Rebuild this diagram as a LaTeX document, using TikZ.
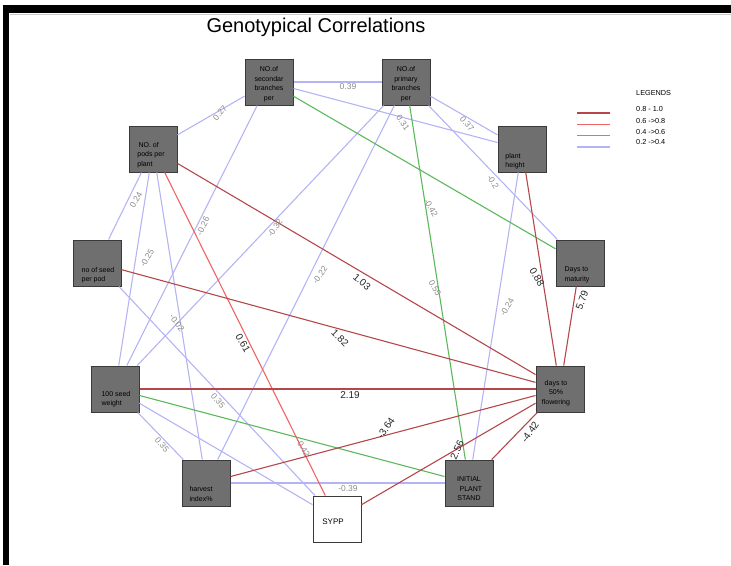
\documentclass[tikz,border=0pt]{standalone}
\usepackage{fontspec}
\setmainfont{Liberation Sans}
\usetikzlibrary{positioning}
\definecolor{darkred}{HTML}{B5474B}
\definecolor{lightred}{HTML}{EE6464}
\definecolor{midgreen}{HTML}{5DB85D}
\definecolor{lavender}{HTML}{B4B4F5}
\definecolor{boxgray}{HTML}{6F6F6F}
\definecolor{boxedge}{HTML}{3A3A3A}
\definecolor{lblgray}{HTML}{8A8A8A}

\begin{document}
\begin{tikzpicture}[
    x=1pt, y=-1pt,
    box/.style={draw=boxedge, fill=boxgray, line width=1pt,
                minimum width=48, minimum height=46, inner sep=0pt},
    txt/.style={font=\fontsize{7}{9.5}\selectfont, align=left, inner sep=0pt},
    ctxt/.style={txt, align=center},
    wlbl/.style={font=\fontsize{8.5}{9}\selectfont, text=lblgray, inner sep=1pt},
    slbl/.style={font=\fontsize{10}{11}\selectfont, text=black!85, inner sep=1pt},
    vhigh/.style={draw=darkred, line width=1.1pt},
    high/.style={draw=lightred, line width=1.1pt},
    mid/.style={draw=midgreen, line width=1.1pt},
    low/.style={draw=lavender, line width=1.1pt}
  ]
    \useasboundingbox (0,0) rectangle (731,565);
    % window frame
    \fill[black] (3,5) rectangle (731,13);
    \fill[black] (3,5) rectangle (9,565);
    \draw[gray!40, line width=1pt] (10,14.5) -- (731,14.5);

    \node[font=\fontsize{20}{22}\selectfont] (title) at (316,27) {Genotypical Correlations};

    % trait boxes
    \node[box, label={[ctxt, yshift=-2]center:{NO.of\\secondar\\branches\\per}}] (sec) at (269,82) {};
    \node[box, label={[ctxt, yshift=-2]center:{NO.of\\primary\\branches\\per}}] (pri) at (406,82) {};
    \node[box, label={[txt, xshift=-2, yshift=-6]center:{\,NO. of\\pods per\\plant}}] (pods) at (153,149) {};
    \node[box, label={[txt, xshift=-7, yshift=-12]center:{plant\\height}}] (ph) at (522,149) {};
    \node[box, label={[txt, xshift=1, yshift=-12]center:{no of seed\\per pod}}] (spp) at (97,263) {};
    \node[box, label={[txt, xshift=-3, yshift=-12]center:{Days to\\maturity}}] (dtm) at (580,263) {};
    \node[box, label={[txt, xshift=1, yshift=-10]center:{100 seed\\weight}}] (sw) at (115,389) {};
    \node[box, label={[ctxt, xshift=-4, yshift=-4]center:{days to\\50\%\\flowering}}] (dtf) at (560,389) {};
    \node[box, label={[txt, xshift=-5, yshift=-11]center:{harvest\\index\%}}] (hi) at (206,483) {};
    \node[box, label={[ctxt, yshift=-6]center:{INITIAL\\\ \ PLANT\\STAND}}] (ips) at (469,483) {};
    \node[box, fill=white, label={[font=\fontsize{8}{9}\selectfont, xshift=-4, yshift=-3]center:SYPP}] (sypp) at (337,519) {};

    % correlations 0.2 -> 0.4
    \draw[low] (sec) -- (pri);
    \draw[low] (sec) -- (pods);
    \draw[low] (sec) -- (ph);
    \draw[low] (sec) -- (sw);
    \draw[low] (pri) -- (ph);
    \draw[low] (pri) -- (dtm);
    \draw[low] (pri) -- (sw);
    \draw[low] (pri) -- (hi);
    \draw[low] (pods) -- (spp);
    \draw[low] (pods) -- (sw);
    \draw[low] (pods) -- (hi);
    \draw[low] (spp) -- (sypp);
    \draw[low] (sw) -- (hi);
    \draw[low] (sw) -- (sypp);
    \draw[low] (hi) -- (ips);
    \draw[low] (ph) -- (ips);
    % 0.4 -> 0.6
    \draw[mid] (sec) -- (dtm);
    \draw[mid] (pri) -- (ips);
    \draw[mid] (sw) -- (ips);
    % 0.6 -> 0.8
    \draw[high] (pods) -- (sypp);
    % 0.8 - 1.0
    \draw[vhigh] (pods) -- (dtf);
    \draw[vhigh] (spp) -- (dtf);
    \draw[vhigh] (sw) -- (dtf);
    \draw[vhigh] (hi) -- (dtf);
    \draw[vhigh] (sypp) -- (dtf);
    \draw[vhigh] (ips) -- (dtf);
    \draw[vhigh] (dtf) -- (ph);
    \draw[vhigh] (dtf) -- (dtm);

    % coefficient labels
    \node[wlbl] (l1) at (348,87) {0.39};
    \node[wlbl, rotate=50] (l2) at (220,113) {0.27};
    \node[wlbl, rotate=-55] (l3) at (403,123) {0.31};
    \node[wlbl, rotate=-50] (l4) at (467,124) {0.37};
    \node[wlbl, rotate=-60] (l5) at (493,182) {-0.2};
    \node[wlbl, rotate=-60] (l6) at (431,208) {-0.42};
    \node[wlbl, rotate=60] (l7) at (136,200) {0.24};
    \node[wlbl, rotate=60] (l8) at (147,258) {-0.25};
    \node[wlbl, rotate=65] (l9) at (203,226) {-0.26};
    \node[wlbl, rotate=55] (l10) at (275,228) {-0.32};
    \node[wlbl, rotate=55] (l11) at (320,275) {-0.22};
    \node[wlbl, rotate=-60] (l12) at (435,288) {0.55};
    \node[wlbl, rotate=60] (l13) at (507,307) {-0.24};
    \node[wlbl, rotate=-55] (l14) at (177,323) {-0.02};
    \node[wlbl, rotate=-50] (l15) at (218,401) {0.35};
    \node[wlbl, rotate=-50] (l16) at (162,445) {0.35};
    \node[wlbl, rotate=-60] (l17) at (303,448) {-0.42};
    \node[wlbl] (l18) at (348,489) {-0.39};
    \node[slbl, rotate=-40] (l19) at (362,282) {1.03};
    \node[slbl, rotate=-45] (l20) at (340,338) {1.82};
    \node[slbl, rotate=-60] (l21) at (243,343) {0.61};
    \node[slbl] (l22) at (350,395) {2.19};
    \node[slbl, rotate=-60] (l23) at (537,277) {0.88};
    \node[slbl, rotate=70] (l24) at (582,300) {5.79};
    \node[slbl, rotate=55] (l25) at (386,428) {-3.64};
    \node[slbl, rotate=65] (l26) at (457,450) {2.56};
    \node[slbl, rotate=55] (l27) at (530,432) {-4.42};

    % legend
    \node[font=\fontsize{7.3}{8}\selectfont, anchor=west, inner sep=0pt] (leg) at (636,93) {LEGENDS};
    \foreach \ys/\yt/\st/\lw/\tx in {113/109/vhigh/2.2pt/0.8 - 1.0, 124/121/high/1pt/0.6 ->0.8,
                                     135/132/mid/1pt/0.4 ->0.6, 147/142/low/1.4pt/0.2 ->0.4} {
      \draw[\st, line width=\lw] (577,\ys) -- (610,\ys);
      \node[font=\fontsize{7.3}{8}\selectfont, anchor=west, inner sep=0pt] at (636,\yt) {\tx};
    }
\end{tikzpicture}
\end{document}
